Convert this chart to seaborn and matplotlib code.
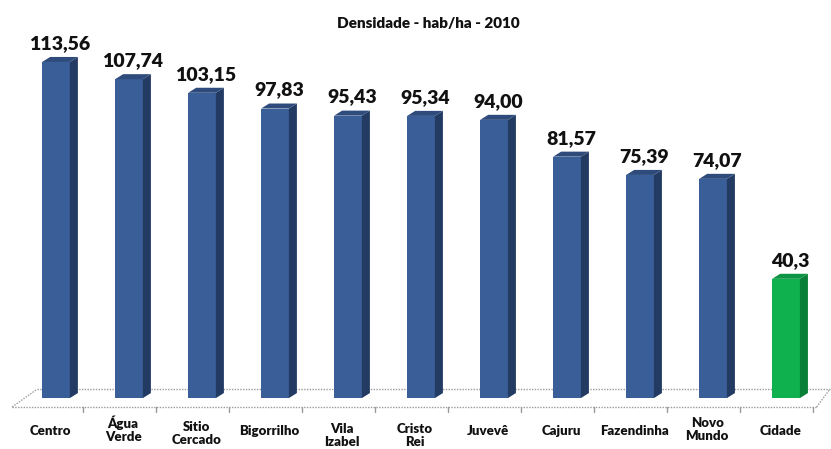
import matplotlib
matplotlib.use("Agg")
import matplotlib.pyplot as plt
from matplotlib.patches import Polygon
import seaborn as sns
import pandas as pd

# Population density by neighbourhood, 2010 (inhabitants per hectare)
bairros = ["Centro", "Água\nVerde", "Sitio\nCercado", "Bigorrilho", "Vila\nIzabel",
           "Cristo\nRei", "Juvevê", "Cajuru", "Fazendinha", "Novo\nMundo", "Cidade"]
densidade = [113.56, 107.74, 103.15, 97.83, 95.43, 95.34, 94.00, 81.57, 75.39, 74.07, 40.3]
rotulos = ["113,56", "107,74", "103,15", "97,83", "95,43", "95,34", "94,00",
           "81,57", "75,39", "74,07", "40,3"]
destaque = ["bairro"] * 10 + ["cidade"]

sns.set_theme(style="white")
plt.rcParams["font.family"] = ["Lato", "DejaVu Sans"]

df = pd.DataFrame({"bairro": bairros, "densidade": densidade, "grupo": destaque})

front = {"bairro": "#3A5E98", "cidade": "#0FB04E"}
side = {"bairro": "#233B63", "cidade": "#0A7F38"}
top = {"bairro": "#2E4B7C", "cidade": "#0C9444"}

fig = plt.figure(figsize=(8.31, 4.49), dpi=100)
ax = fig.add_axes([0, 0, 1, 1])

# depth of the pseudo-3D extrusion, in data units
dx, dy = 0.11, 1.7

sns.barplot(data=df, x="bairro", y="densidade", hue="grupo", palette=front,
            width=0.38, dodge=False, legend=False, ax=ax, zorder=3,
            linewidth=0, order=bairros, saturation=1)

# floor plane (dotted outline with ticks on the front edge)
floor_kw = dict(color="#9a9a9a", lw=1.0, ls=(0, (1, 1)), zorder=1)
ax.plot([-0.26, 10.60], [3.0, 3.0], **floor_kw)
ax.plot([-0.60, 10.42], [-3.0, -3.0], **floor_kw)
ax.plot([-0.60, -0.26], [-3.0, 3.0], **floor_kw)
ax.plot([10.42, 10.60], [-3.0, 3.0], **floor_kw)
for k in range(len(bairros)):
    xt = k + 0.37
    ax.plot([xt, xt], [-3.0, -4.8], color="#9a9a9a", lw=1.0, zorder=1)

for patch, grp, val, txt in zip(sorted(ax.patches, key=lambda p: p.get_x()),
                                destaque, densidade, rotulos):
    x0 = patch.get_x()
    w = patch.get_width()
    x1 = x0 + w
    h = patch.get_height()
    ax.add_patch(Polygon([(x1, 0), (x1 + dx, dy), (x1 + dx, h + dy), (x1, h)],
                         closed=True, fc=side[grp], ec="none", zorder=3))
    ax.add_patch(Polygon([(x0, h), (x1, h), (x1 + dx, h + dy), (x0 + dx, h + dy)],
                         closed=True, fc=top[grp], ec="none", zorder=3))
    ax.text(x0 + (w + dx) / 2, val + 3.4, txt, ha="center", va="bottom",
            fontsize=14, fontweight="heavy", color="#111111", zorder=4)

# category names under the floor
label_y = [-11.1, -10.6, -12.0, -11.1, -12.6, -12.6, -11.1, -11.1, -11.1, -10.6, -11.1]
for i, (name, yy) in enumerate(zip(bairros, label_y)):
    ax.text(i - 0.08, yy, name, ha="center", va="center", fontsize=9.5,
            fontweight="heavy", color="#111111", linespacing=1.15)

ax.text(0.515, 0.948, "Densidade - hab/ha - 2010", transform=ax.transAxes,
        ha="center", va="center", fontsize=11, fontweight="heavy", color="#111111")

ax.set_xlim(-0.767, 10.616)
ax.set_ylim(-17.2, 134.5)
ax.axis("off")
fig.savefig("out.png", dpi=100, facecolor="white")
